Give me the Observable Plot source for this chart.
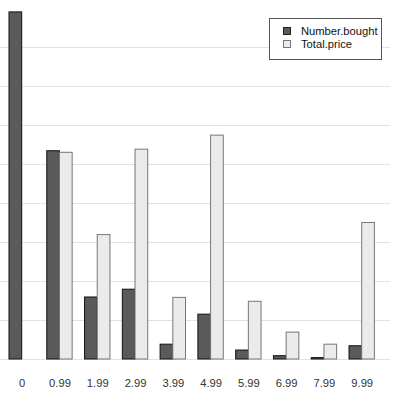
<!DOCTYPE html>
<html>
<head>
<meta charset="utf-8">
<script src="https://cdn.jsdelivr.net/npm/d3@7"></script>
<script src="https://cdn.jsdelivr.net/npm/@observablehq/plot@0.6"></script>
<style>
  html, body { margin: 0; padding: 0; background: #fff; }
  #wrap { position: relative; width: 398px; height: 400px; font-family: "Liberation Sans", Arial, sans-serif; }
  #legend { position: absolute; left: 269px; top: 18px; width: 111px; height: 40px; border: 1px solid #555; background: #fff; font-size: 11.2px; color: #111; }
  #legend .item { position: absolute; left: 13px; display: flex; align-items: center; }
  #legend .sw { width: 6px; height: 6px; border: 1px solid; margin-right: 10px; }
</style>
</head>
<body>
<div id="wrap"></div>
<script>
const categories = ["0", "0.99", "1.99", "2.99", "3.99", "4.99", "5.99", "6.99", "7.99", "9.99"];
const numberBought = [89.0, 53.4, 15.9, 17.9, 3.8, 11.5, 2.3, 0.85, 0.35, 3.4];
const totalPrice   = [0,    53.0, 31.9, 53.8, 15.8, 57.4, 14.8, 6.9, 3.8, 35.0];
const seriesNames = ["Number.bought", "Total.price"];
const seriesFill = ["#5a5a5a", "#ebebeb"];
const seriesStroke = ["#111111", "#777777"];
const gridValues = [0, 10, 20, 30, 40, 50, 60, 70, 80];

const half = 0.336;
const rows = [];
categories.forEach((c, i) => {
  rows.push({i, s: 0, v: numberBought[i], x1: i - half, x2: i});
  rows.push({i, s: 1, v: totalPrice[i], x1: i, x2: i + half});
});

const plot = Plot.plot({
  width: 398,
  height: 400,
  marginLeft: 0,
  marginRight: 8,
  marginTop: 8,
  marginBottom: 41,
  style: {fontFamily: "'Liberation Sans', Arial, sans-serif", fontSize: "11.2px", background: "#fff", color: "#333"},
  x: {type: "linear", domain: [-0.574, 9.749], axis: null},
  y: {domain: [0, 90], axis: null},
  marks: [
    Plot.ruleY(gridValues, {stroke: "#e2e2e2", strokeWidth: 1}),
    Plot.rectY(rows.filter(d => d.s === 0), {x1: "x1", x2: "x2", y1: 0, y2: "v", fill: seriesFill[0], stroke: seriesStroke[0], strokeWidth: 1}),
    Plot.rectY(rows.filter(d => d.s === 1), {x1: "x1", x2: "x2", y1: 0, y2: "v", fill: seriesFill[1], stroke: seriesStroke[1], strokeWidth: 1}),
    Plot.axisX(d3.range(categories.length), {tickFormat: i => categories[i], tickSize: 0, tickPadding: 20, label: null, color: "#333"})
  ]
});

const wrap = document.getElementById("wrap");
wrap.appendChild(plot);

const legend = document.createElement("div");
legend.id = "legend";
seriesNames.forEach((name, k) => {
  const item = document.createElement("div");
  item.className = "item";
  item.style.top = (6 + k * 12.5) + "px";
  const sw = document.createElement("span");
  sw.className = "sw";
  sw.style.background = seriesFill[k];
  sw.style.borderColor = k === 0 ? "#222" : "#777";
  const t = document.createElement("span");
  t.textContent = name;
  item.appendChild(sw);
  item.appendChild(t);
  legend.appendChild(item);
});
wrap.appendChild(legend);
</script>
</body>
</html>
